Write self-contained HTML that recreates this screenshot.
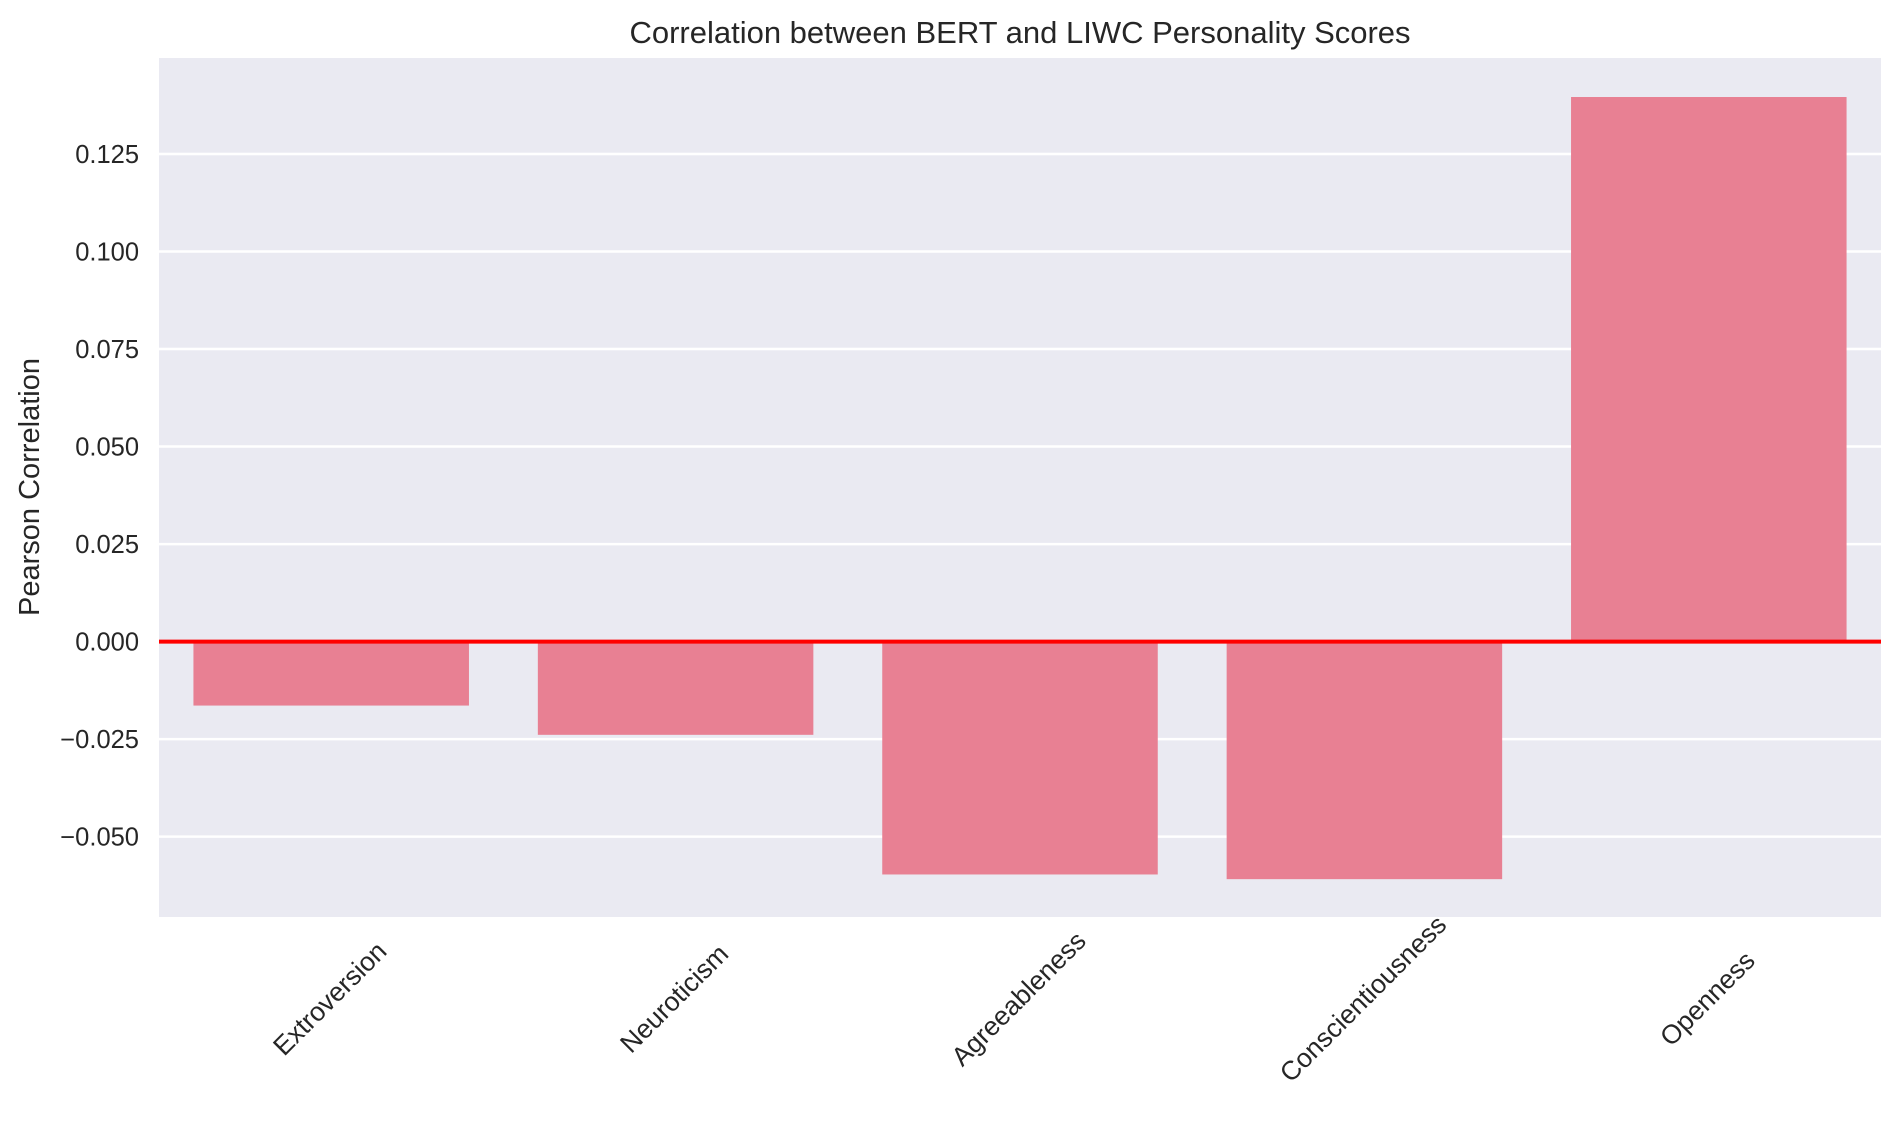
<!DOCTYPE html>
<html><head><meta charset="utf-8"><style>
body{margin:0;background:#fff;}
svg{display:block;font-family:"Liberation Sans",Arial,sans-serif;}
</style></head><body>
<svg id="chart" width="1900" height="1130">
<text x="1020" y="43" text-anchor="middle" font-size="31" fill="#262626">Correlation between BERT and LIWC Personality Scores</text>
<rect x="159" y="58" width="1722" height="859" fill="#eaeaf2"/>
<g id="grid"></g><g id="bars"></g><g id="yticks"></g><g id="xticks"></g>
<text transform="translate(39,487) rotate(-90)" text-anchor="middle" font-size="29" fill="#262626">Pearson Correlation</text>
</svg>
<script>
const categories=["Extroversion","Neuroticism","Agreeableness","Conscientiousness","Openness"];
const values=[-0.0164,-0.0239,-0.0597,-0.0609,0.1396];
const yTicks=[-0.05,-0.025,0,0.025,0.05,0.075,0.1,0.125];
const yTickLabels=["\u22120.050","\u22120.025","0.000","0.025","0.050","0.075","0.100","0.125"];
const L=159,R=1881,T=58,B=917,ymin=-0.0706,ymax=0.1496;
const ns="http://www.w3.org/2000/svg";
function y(v){return B-(v-ymin)/(ymax-ymin)*(B-T);}
function band(i){return L+(R-L)/categories.length*i;}
const bw=(R-L)/categories.length;
function mk(t,a,p){const e=document.createElementNS(ns,t);for(const k in a)e.setAttribute(k,a[k]);p.appendChild(e);return e;}
const g=document.getElementById('grid'),bars=document.getElementById('bars'),yt=document.getElementById('yticks'),xt=document.getElementById('xticks');
yTicks.forEach((v,i)=>{
 const l=mk('line',{x1:L,x2:R,y1:y(v),y2:y(v),stroke:'#fff','stroke-width':2.5},g);
 
 
 const t=mk('text',{x:L-20,y:y(v)+9,'text-anchor':'end','font-size':25.5,fill:'#262626'},yt);
 t.textContent=yTickLabels[i];
 
 
});
values.forEach((v,i)=>{
 const x=band(i)+bw*0.1;
 const r=mk('rect',{x:x,width:bw*0.8,y:Math.min(y(v),y(0)),height:Math.abs(y(v)-y(0)),fill:'#e88093'},bars);
 
 
 const cx=band(i)+bw/2;
 const t=mk('text',{x:cx,y:1000,'text-anchor':'middle','dominant-baseline':'middle','font-size':26.5,fill:'#262626',transform:'rotate(-45 '+cx+' 1000)'},xt);
 t.textContent=categories[i];
 
 
});
const z=mk('line',{x1:L,x2:R,y1:y(0),y2:y(0),stroke:'#ff0000','stroke-width':4},document.getElementById('chart'));


</script>
</body></html>
